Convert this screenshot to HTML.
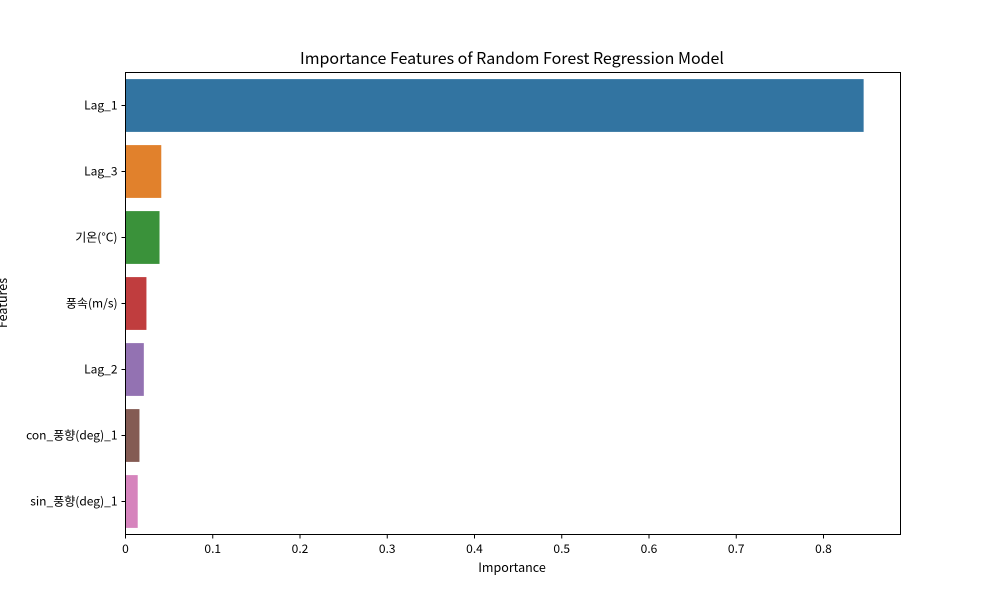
<!DOCTYPE html>
<html><head><meta charset="utf-8"><style>
body{margin:0;background:#fff}
svg text{font-family:"Noto Sans CJK KR","Liberation Sans",sans-serif;fill:#000}
</style></head><body>
<svg id="chart" width="1000" height="600">
<text x="512" y="64" text-anchor="middle" font-size="16">Importance Features of Random Forest Regression Model</text>
<text x="512" y="572" text-anchor="middle" font-size="12.5">Importance</text>
<text transform="translate(7,303) rotate(-90)" text-anchor="middle" font-size="12.5">Features</text>
<g id="bars"></g><g id="xt"></g><g id="yt"></g>
<rect x="125.5" y="72.5" width="775" height="462" fill="none" stroke="#000" stroke-width="1"/>
</svg>
<script>
const categories=["Lag_1","Lag_3","기온(°C)","풍속(m/s)","Lag_2","con_풍향(deg)_1","sin_풍향(deg)_1"];
const importance=[0.846,0.041,0.039,0.024,0.021,0.016,0.014];
const colors=["#3274a1","#e1812c","#3a923a","#c03d3e","#9372b2","#845b53","#d684bd"];
const xTicks=[0,0.1,0.2,0.3,0.4,0.5,0.6,0.7,0.8];
const NS="http://www.w3.org/2000/svg";
const x0=125.5,pxPer=872.5,top0=72.5,band=66;
const X=v=>x0+v*pxPer, Y=i=>top0+band*i;
const bars=document.getElementById('bars'),xt=document.getElementById('xt'),yt=document.getElementById('yt');
function mk(t,a){const e=document.createElementNS(NS,t);for(const k in a)e.setAttribute(k,a[k]);return e;}
categories.forEach((c,i)=>{
 const r=mk('rect',{x:X(0),y:Y(i)+band*0.1,width:X(importance[i])-X(0),height:band*0.8,fill:colors[i]});
 
 
 bars.appendChild(r);
 const cy=Y(i)+band/2;
 const l=mk('line',{x1:x0-4,x2:x0,y1:cy,y2:cy,stroke:'#000'});
 
 
 yt.appendChild(l);
 const t=mk('text',{x:x0-8,y:cy+4,'text-anchor':'end','font-size':12});t.textContent=c;
 
 
 yt.appendChild(t);
});
xTicks.forEach(v=>{
 const l=mk('line',{x1:X(v),x2:X(v),y1:534.5,y2:538.5,stroke:'#000'});
 
 
 xt.appendChild(l);
 const t=mk('text',{x:X(v),y:553,'text-anchor':'middle','font-size':12});t.textContent=String(v);
 
 
 xt.appendChild(t);
});
</script>
</body></html>
